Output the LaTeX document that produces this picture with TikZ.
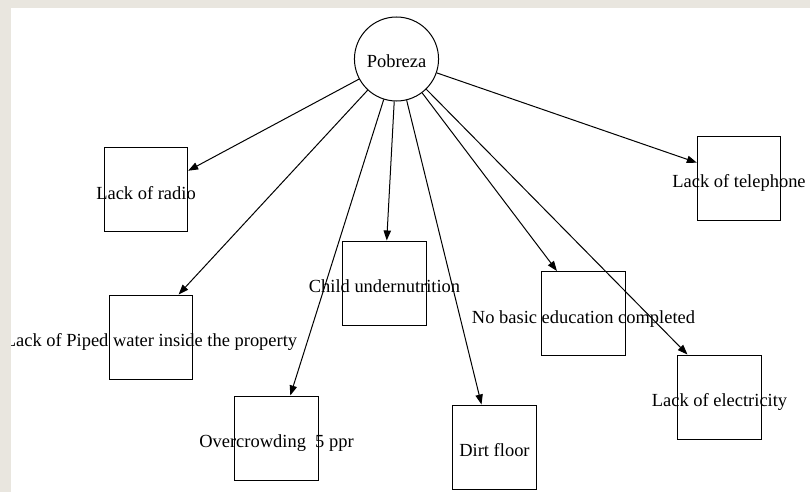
\documentclass[tikz,border=0pt]{standalone}
\usepackage{fontspec}
\setmainfont{Liberation Serif}
\usepackage{tikz}
\usetikzlibrary{shapes.geometric, arrows.meta}

\definecolor{pagebeige}{HTML}{E9E6DF}

\begin{document}
\begin{tikzpicture}[
        % one unit is one pixel of the 810x492 picture, y grows downwards
        x=0.75pt, y=-0.75pt,
        % Define styles for the nodes
        root_node/.style={ellipse, draw, line width=0.75pt, minimum width=62.25pt, minimum height=63pt,
            inner sep=0pt, text height=13.5pt, text depth=0pt, font=\fontsize{13.85pt}{16pt}\selectfont},
        item/.style={rectangle, draw, line width=0.75pt, minimum width=62.5pt, minimum height=63pt, inner sep=0pt},
        caption/.style={inner sep=0pt, text height=14.7pt, text depth=0pt, font=\fontsize{13.85pt}{16pt}\selectfont},
        arrow/.style={-{Triangle[length=7.5pt, width=5.5pt]}, line width=0.75pt}
    ]

    % page: beige margin left and top, white sheet
    \useasboundingbox (0,0) rectangle (810,492);
    \fill [pagebeige] (0,0) rectangle (810,492);
    \fill [white] (11,8) rectangle (810,492);

    \begin{scope}
    \clip (11,8) rectangle (810,492);

    % Root of the tree
    \node (pobreza) [root_node] at (396.5,59) {Pobreza};

    % Deprivation boxes, the captions run over the box edges
    \node (radio) [item, label={[caption]center:Lack of radio}] at (146,189.5) {};
    \node (telephone) [item, label={[caption]center:Lack of telephone}] at (739,178) {};
    \node (child) [item, label={[caption]center:Child undernutrition}] at (384.5,283) {};
    \node (education) [item, label={[caption]center:No basic education completed}] at (583.5,313.5) {};
    \node (piped) [item, label={[caption]center:Lack of Piped water inside the property}] at (151,337) {};
    \node (electricity) [item, label={[caption]center:Lack of electricity}] at (719.5,397) {};
    \node (crowding) [item, label={[caption]center:Overcrowding~~5 ppr}] at (276.5,438) {};
    \node (dirt) [item, label={[caption]center:Dirt floor}] at (494.5,447) {};

    % Edges from the root
    \draw [arrow] (pobreza) -- (radio.24);
    \draw [arrow] (pobreza) -- (piped.57);
    \draw [arrow] (pobreza) -- (crowding.72);
    \draw [arrow] (pobreza) -- (child.87);
    \draw [arrow] (pobreza) -- (dirt.107);
    \draw [arrow] (pobreza) -- (education.122);
    \draw [arrow] (pobreza) -- (electricity.127);
    \draw [arrow] (pobreza) -- (telephone.160);

    \end{scope}

\end{tikzpicture}
\end{document}
